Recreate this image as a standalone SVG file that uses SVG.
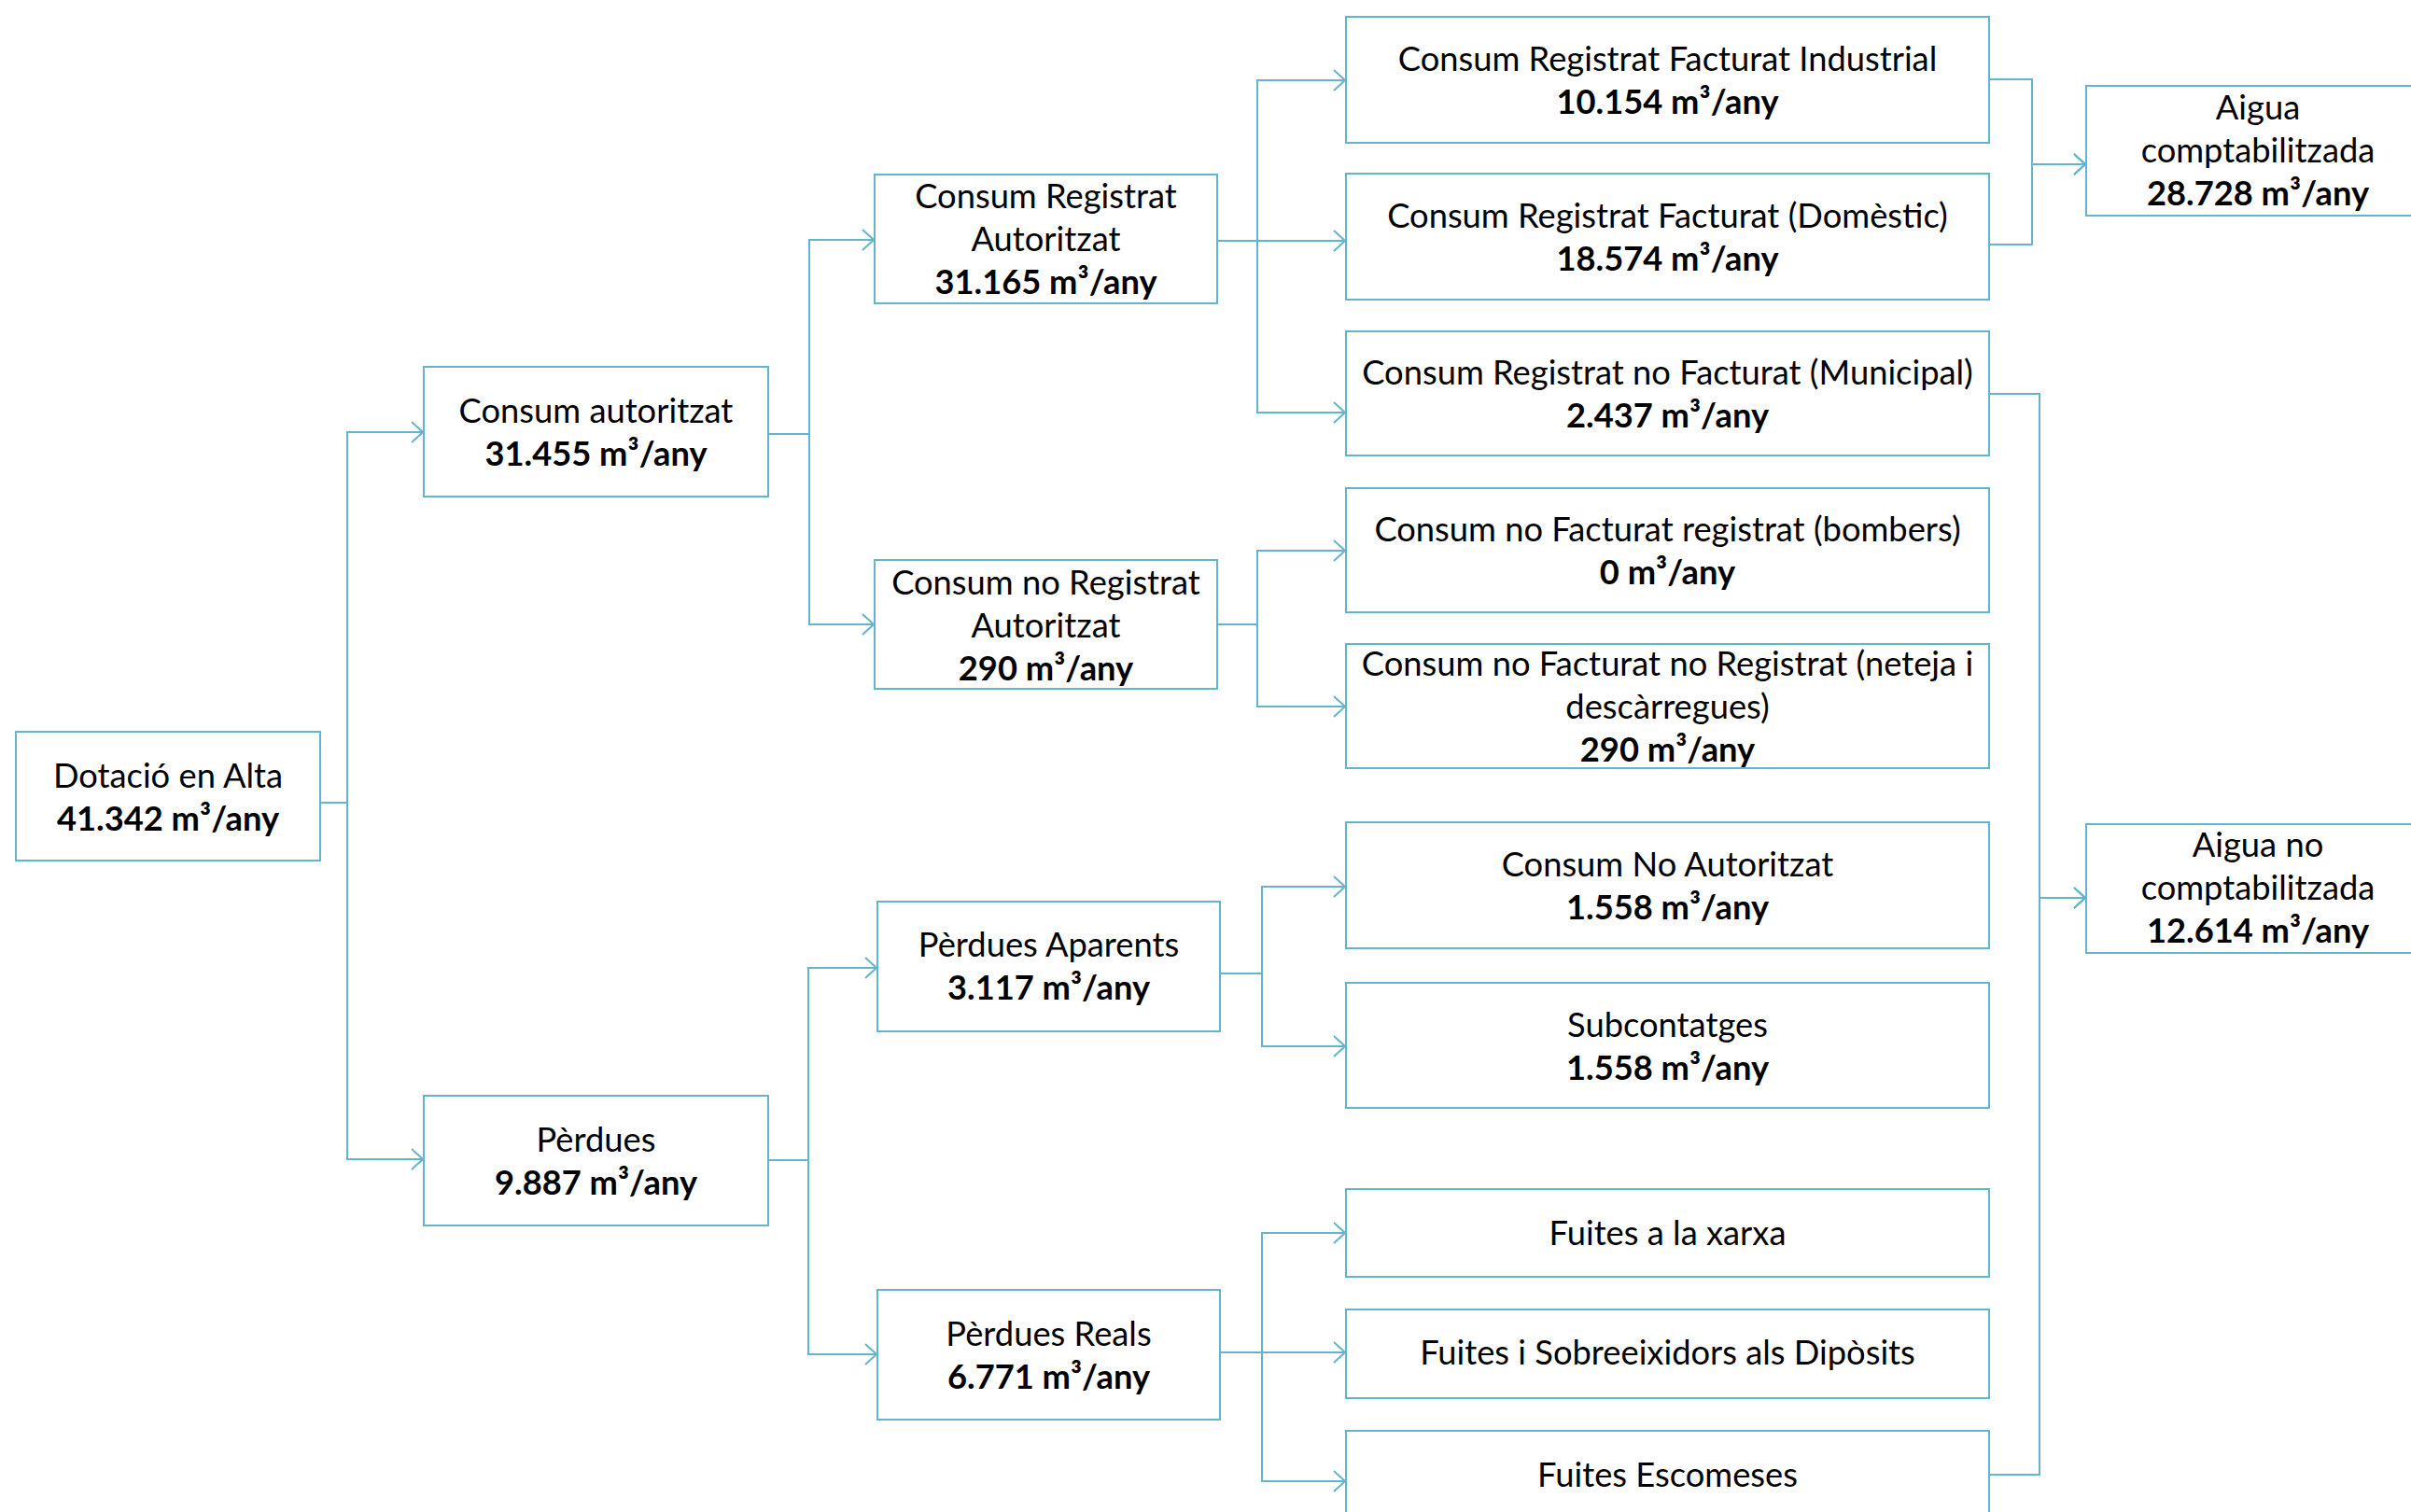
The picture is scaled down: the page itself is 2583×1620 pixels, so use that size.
<svg xmlns="http://www.w3.org/2000/svg" width="2583" height="1620" viewBox="0 0 2583 1620">
<style>
.box{fill:#fff;stroke:#62b5cd;stroke-width:2}
.t{font-family:Lato,"Liberation Sans",sans-serif;font-size:36.3px;text-anchor:middle;fill:#000}
.b{font-weight:bold}
.c{fill:none;stroke:#62b5cd;stroke-width:2;marker-end:url(#arr)}
</style>
<defs>
<marker id="arr" markerUnits="userSpaceOnUse" viewBox="0 0 14 24" refX="13" refY="12" markerWidth="14" markerHeight="24" orient="auto">
<path d="M1,1 L13,12 L1,23" fill="none" stroke="#62b5cd" stroke-width="2"/>
</marker>
</defs>
<rect width="2583" height="1620" fill="#fff"/>
<g id="connectors">
<path class="c" d="M343,860 H372 V463 H453"/>
<path class="c" d="M343,860 H372 V1242 H453"/>
<path class="c" d="M823,465 H867 V257 H936"/>
<path class="c" d="M823,465 H867 V669 H936"/>
<path class="c" d="M1304,258 H1347 V86 H1441"/>
<path class="c" d="M1304,258 H1441"/>
<path class="c" d="M1304,258 H1347 V442 H1441"/>
<path class="c" d="M1304,669 H1347 V590 H1441"/>
<path class="c" d="M1304,669 H1347 V757 H1441"/>
<path class="c" d="M822,1243 H866 V1037 H939"/>
<path class="c" d="M822,1243 H866 V1451 H939"/>
<path class="c" d="M1307,1043 H1352 V950 H1441"/>
<path class="c" d="M1307,1043 H1352 V1121 H1441"/>
<path class="c" d="M1307,1449 H1352 V1321 H1441"/>
<path class="c" d="M1307,1449 H1441"/>
<path class="c" d="M1307,1449 H1352 V1587 H1441"/>
<path class="c" d="M2131,85 H2177 V176 H2234"/>
<path class="c" d="M2131,262 H2177 V176 H2234"/>
<path class="c" d="M2131,422 H2185 V962 H2234"/>
<path class="c" d="M2131,1580 H2185 V962 H2234"/>
</g>
<g id="dotacio"><rect class="box" x="17" y="784" width="326" height="138"/>
<text class="t" x="180" y="844">Dotació en Alta</text><text class="t b" x="180" y="890">41.342 m³/any</text></g>
<g id="consum-autoritzat"><rect class="box" x="454" y="393" width="369" height="139"/>
<text class="t" x="638.5" y="453">Consum autoritzat</text><text class="t b" x="638.5" y="499">31.455 m³/any</text></g>
<g id="perdues"><rect class="box" x="454" y="1174" width="369" height="139"/>
<text class="t" x="638.5" y="1234">Pèrdues</text><text class="t b" x="638.5" y="1280">9.887 m³/any</text></g>
<g id="cra"><rect class="box" x="937" y="187" width="367" height="138"/>
<text class="t" x="1120.5" y="223">Consum Registrat</text><text class="t" x="1120.5" y="269">Autoritzat</text><text class="t b" x="1120.5" y="315">31.165 m³/any</text></g>
<g id="cnra"><rect class="box" x="937" y="600" width="367" height="138"/>
<text class="t" x="1120.5" y="637">Consum no Registrat</text><text class="t" x="1120.5" y="683">Autoritzat</text><text class="t b" x="1120.5" y="729">290 m³/any</text></g>
<g id="perdues-aparents"><rect class="box" x="940" y="966" width="367" height="139"/>
<text class="t" x="1123.5" y="1025">Pèrdues Aparents</text><text class="t b" x="1123.5" y="1071">3.117 m³/any</text></g>
<g id="perdues-reals"><rect class="box" x="940" y="1382" width="367" height="139"/>
<text class="t" x="1123.5" y="1442">Pèrdues Reals</text><text class="t b" x="1123.5" y="1488">6.771 m³/any</text></g>
<g id="industrial"><rect class="box" x="1442" y="18" width="689" height="135"/>
<text class="t" x="1786.5" y="76">Consum Registrat Facturat Industrial</text><text class="t b" x="1786.5" y="122">10.154 m³/any</text></g>
<g id="domestic"><rect class="box" x="1442" y="186" width="689" height="135"/>
<text class="t" x="1786.5" y="244">Consum Registrat Facturat (Domèstic)</text><text class="t b" x="1786.5" y="290">18.574 m³/any</text></g>
<g id="municipal"><rect class="box" x="1442" y="355" width="689" height="133"/>
<text class="t" x="1786.5" y="412">Consum Registrat no Facturat (Municipal)</text><text class="t b" x="1786.5" y="458">2.437 m³/any</text></g>
<g id="bombers"><rect class="box" x="1442" y="523" width="689" height="133"/>
<text class="t" x="1786.5" y="580">Consum no Facturat registrat (bombers)</text><text class="t b" x="1786.5" y="626">0 m³/any</text></g>
<g id="neteja"><rect class="box" x="1442" y="690" width="689" height="133"/>
<text class="t" x="1786.5" y="724">Consum no Facturat no Registrat (neteja i</text><text class="t" x="1786.5" y="770">descàrregues)</text><text class="t b" x="1786.5" y="816">290 m³/any</text></g>
<g id="no-autoritzat"><rect class="box" x="1442" y="881" width="689" height="135"/>
<text class="t" x="1786.5" y="939">Consum No Autoritzat</text><text class="t b" x="1786.5" y="985">1.558 m³/any</text></g>
<g id="subcontatges"><rect class="box" x="1442" y="1053" width="689" height="134"/>
<text class="t" x="1786.5" y="1111">Subcontatges</text><text class="t b" x="1786.5" y="1157">1.558 m³/any</text></g>
<g id="fuites-xarxa"><rect class="box" x="1442" y="1274" width="689" height="94"/>
<text class="t" x="1786.5" y="1334">Fuites a la xarxa</text></g>
<g id="fuites-diposits"><rect class="box" x="1442" y="1403" width="689" height="95"/>
<text class="t" x="1786.5" y="1462">Fuites i Sobreeixidors als Dipòsits</text></g>
<g id="fuites-escomeses"><rect class="box" x="1442" y="1533" width="689" height="96"/>
<text class="t" x="1786.5" y="1593">Fuites Escomeses</text></g>
<g id="aigua-comptabilitzada"><rect class="box" x="2235" y="92" width="368" height="139"/>
<text class="t" x="2419" y="128">Aigua</text><text class="t" x="2419" y="174">comptabilitzada</text><text class="t b" x="2419" y="220">28.728 m³/any</text></g>
<g id="aigua-no-comptabilitzada"><rect class="box" x="2235" y="883" width="368" height="138"/>
<text class="t" x="2419" y="918">Aigua no</text><text class="t" x="2419" y="964">comptabilitzada</text><text class="t b" x="2419" y="1010">12.614 m³/any</text></g>
</svg>
